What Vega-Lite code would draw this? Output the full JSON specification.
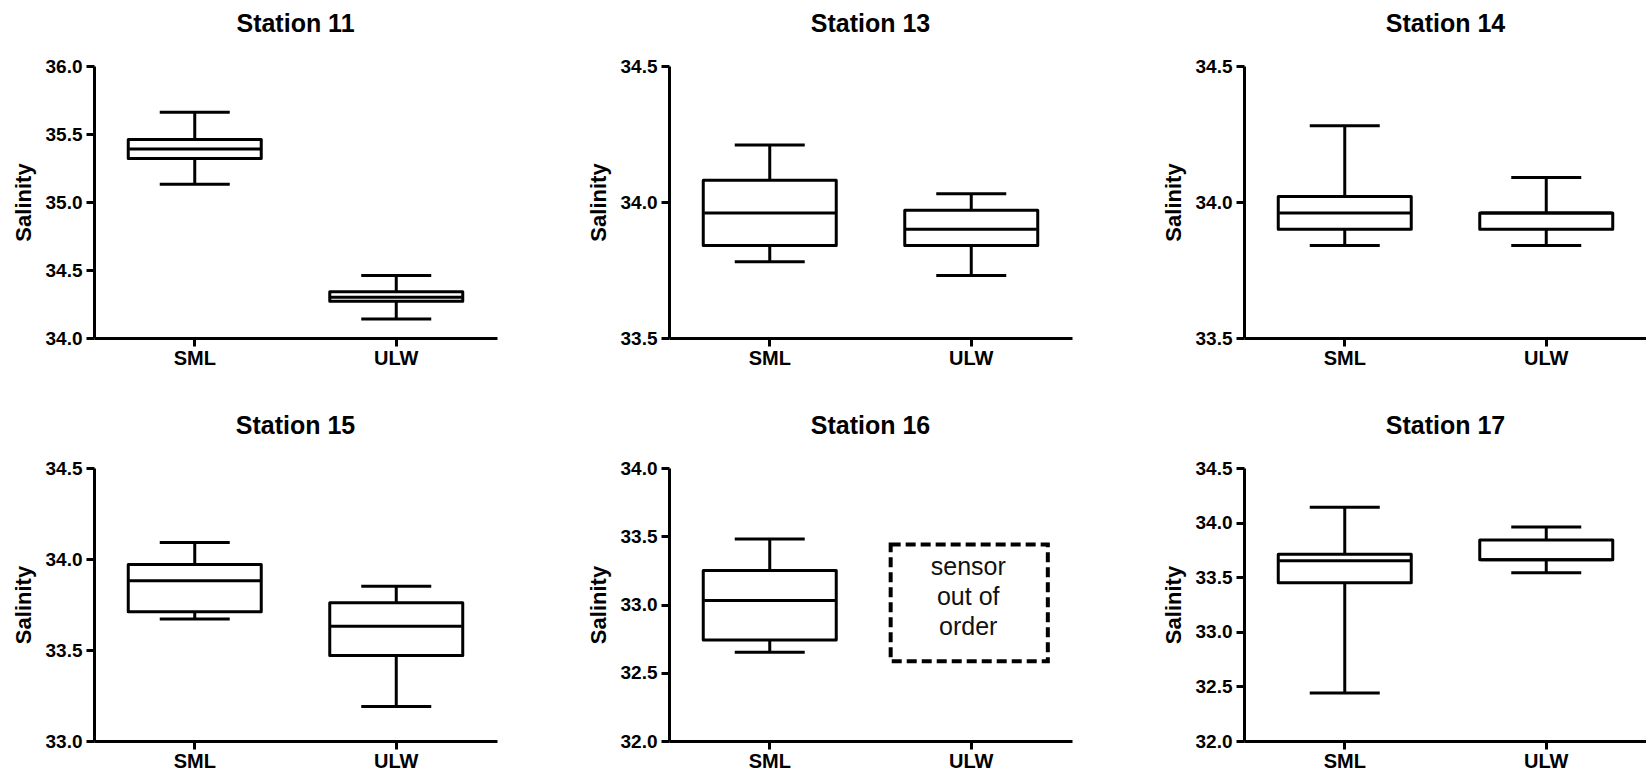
{
"$schema":"https://vega.github.io/schema/vega-lite/v6.json",
"padding":{"left":12,"top":12,"right":0,"bottom":0},
"background":"white",
"datasets":{
"box":[
{"station":"Station 11","group":"SML","lo":35.13,"q1":35.32,"med":35.39,"q3":35.46,"hi":35.66},
{"station":"Station 11","group":"ULW","lo":34.14,"q1":34.27,"med":34.30,"q3":34.34,"hi":34.46},
{"station":"Station 13","group":"SML","lo":33.78,"q1":33.84,"med":33.96,"q3":34.08,"hi":34.21},
{"station":"Station 13","group":"ULW","lo":33.73,"q1":33.84,"med":33.90,"q3":33.97,"hi":34.03},
{"station":"Station 14","group":"SML","lo":33.84,"q1":33.90,"med":33.96,"q3":34.02,"hi":34.28},
{"station":"Station 14","group":"ULW","lo":33.84,"q1":33.90,"med":33.96,"q3":33.96,"hi":34.09},
{"station":"Station 15","group":"SML","lo":33.67,"q1":33.71,"med":33.88,"q3":33.97,"hi":34.09},
{"station":"Station 15","group":"ULW","lo":33.19,"q1":33.47,"med":33.63,"q3":33.76,"hi":33.85},
{"station":"Station 16","group":"SML","lo":32.65,"q1":32.74,"med":33.03,"q3":33.25,"hi":33.48},
{"station":"Station 17","group":"SML","lo":32.44,"q1":33.45,"med":33.65,"q3":33.71,"hi":34.14},
{"station":"Station 17","group":"ULW","lo":33.54,"q1":33.66,"med":33.66,"q3":33.84,"hi":33.96}
],
"oos":[
{"station":"Station 16","group":"ULW","lo":32.585,"hi":33.44,"mid":33.06,"note":"sensor\nout of\norder"}
]
},
"vconcat":[
{"hconcat":[
{"title":"Station 11","width":403,"height":272,"data":{"name":"box"},"transform":[{"filter":"datum.station == 'Station 11'"}],
"encoding":{"x":{"field":"group","type":"nominal","scale":{"domain":["SML","ULW"],"paddingInner":0,"paddingOuter":0},"axis":{"title":null}}},
"layer":[
{"mark":{"type":"rule","color":"black","strokeWidth":3},"encoding":{"y":{"field":"lo","type":"quantitative","title":"Salinity","scale":{"domain":[34,36],"nice":false,"zero":false},"axis":{"values":[34,34.5,35,35.5,36],"format":".1f"}},"y2":{"field":"hi"}}},
{"mark":{"type":"bar","width":{"band":0.66},"fill":"white","stroke":"black","strokeWidth":3,"strokeJoin":"round"},"encoding":{"y":{"field":"q1","type":"quantitative","title":"Salinity"},"y2":{"field":"q3"}}},
{"mark":{"type":"tick","size":131,"thickness":3,"color":"black","opacity":1},"encoding":{"y":{"field":"med","type":"quantitative","title":"Salinity"}}},
{"mark":{"type":"tick","size":70,"thickness":3,"color":"black","opacity":1},"encoding":{"y":{"field":"lo","type":"quantitative","title":"Salinity"}}},
{"mark":{"type":"tick","size":70,"thickness":3,"color":"black","opacity":1},"encoding":{"y":{"field":"hi","type":"quantitative","title":"Salinity"}}}
]},
{"title":"Station 13","width":403,"height":272,"data":{"name":"box"},"transform":[{"filter":"datum.station == 'Station 13'"}],
"encoding":{"x":{"field":"group","type":"nominal","scale":{"domain":["SML","ULW"],"paddingInner":0,"paddingOuter":0},"axis":{"title":null}}},
"layer":[
{"mark":{"type":"rule","color":"black","strokeWidth":3},"encoding":{"y":{"field":"lo","type":"quantitative","title":"Salinity","scale":{"domain":[33.5,34.5],"nice":false,"zero":false},"axis":{"values":[33.5,34,34.5],"format":".1f"}},"y2":{"field":"hi"}}},
{"mark":{"type":"bar","width":{"band":0.66},"fill":"white","stroke":"black","strokeWidth":3,"strokeJoin":"round"},"encoding":{"y":{"field":"q1","type":"quantitative","title":"Salinity"},"y2":{"field":"q3"}}},
{"mark":{"type":"tick","size":131,"thickness":3,"color":"black","opacity":1},"encoding":{"y":{"field":"med","type":"quantitative","title":"Salinity"}}},
{"mark":{"type":"tick","size":70,"thickness":3,"color":"black","opacity":1},"encoding":{"y":{"field":"lo","type":"quantitative","title":"Salinity"}}},
{"mark":{"type":"tick","size":70,"thickness":3,"color":"black","opacity":1},"encoding":{"y":{"field":"hi","type":"quantitative","title":"Salinity"}}}
]},
{"title":"Station 14","width":403,"height":272,"data":{"name":"box"},"transform":[{"filter":"datum.station == 'Station 14'"}],
"encoding":{"x":{"field":"group","type":"nominal","scale":{"domain":["SML","ULW"],"paddingInner":0,"paddingOuter":0},"axis":{"title":null}}},
"layer":[
{"mark":{"type":"rule","color":"black","strokeWidth":3},"encoding":{"y":{"field":"lo","type":"quantitative","title":"Salinity","scale":{"domain":[33.5,34.5],"nice":false,"zero":false},"axis":{"values":[33.5,34,34.5],"format":".1f"}},"y2":{"field":"hi"}}},
{"mark":{"type":"bar","width":{"band":0.66},"fill":"white","stroke":"black","strokeWidth":3,"strokeJoin":"round"},"encoding":{"y":{"field":"q1","type":"quantitative","title":"Salinity"},"y2":{"field":"q3"}}},
{"mark":{"type":"tick","size":131,"thickness":3,"color":"black","opacity":1},"encoding":{"y":{"field":"med","type":"quantitative","title":"Salinity"}}},
{"mark":{"type":"tick","size":70,"thickness":3,"color":"black","opacity":1},"encoding":{"y":{"field":"lo","type":"quantitative","title":"Salinity"}}},
{"mark":{"type":"tick","size":70,"thickness":3,"color":"black","opacity":1},"encoding":{"y":{"field":"hi","type":"quantitative","title":"Salinity"}}}
]}
]},
{"hconcat":[
{"title":"Station 15","width":403,"height":273,"data":{"name":"box"},"transform":[{"filter":"datum.station == 'Station 15'"}],
"encoding":{"x":{"field":"group","type":"nominal","scale":{"domain":["SML","ULW"],"paddingInner":0,"paddingOuter":0},"axis":{"title":null}}},
"layer":[
{"mark":{"type":"rule","color":"black","strokeWidth":3},"encoding":{"y":{"field":"lo","type":"quantitative","title":"Salinity","scale":{"domain":[33,34.5],"nice":false,"zero":false},"axis":{"values":[33,33.5,34,34.5],"format":".1f"}},"y2":{"field":"hi"}}},
{"mark":{"type":"bar","width":{"band":0.66},"fill":"white","stroke":"black","strokeWidth":3,"strokeJoin":"round"},"encoding":{"y":{"field":"q1","type":"quantitative","title":"Salinity"},"y2":{"field":"q3"}}},
{"mark":{"type":"tick","size":131,"thickness":3,"color":"black","opacity":1},"encoding":{"y":{"field":"med","type":"quantitative","title":"Salinity"}}},
{"mark":{"type":"tick","size":70,"thickness":3,"color":"black","opacity":1},"encoding":{"y":{"field":"lo","type":"quantitative","title":"Salinity"}}},
{"mark":{"type":"tick","size":70,"thickness":3,"color":"black","opacity":1},"encoding":{"y":{"field":"hi","type":"quantitative","title":"Salinity"}}}
]},
{"title":"Station 16","width":403,"height":273,"data":{"name":"box"},"transform":[{"filter":"datum.station == 'Station 16'"}],
"encoding":{"x":{"field":"group","type":"nominal","scale":{"domain":["SML","ULW"],"paddingInner":0,"paddingOuter":0},"axis":{"title":null}}},
"layer":[
{"mark":{"type":"rule","color":"black","strokeWidth":3},"encoding":{"y":{"field":"lo","type":"quantitative","title":"Salinity","scale":{"domain":[32,34],"nice":false,"zero":false},"axis":{"values":[32,32.5,33,33.5,34],"format":".1f"}},"y2":{"field":"hi"}}},
{"mark":{"type":"bar","width":{"band":0.66},"fill":"white","stroke":"black","strokeWidth":3,"strokeJoin":"round"},"encoding":{"y":{"field":"q1","type":"quantitative","title":"Salinity"},"y2":{"field":"q3"}}},
{"mark":{"type":"tick","size":131,"thickness":3,"color":"black","opacity":1},"encoding":{"y":{"field":"med","type":"quantitative","title":"Salinity"}}},
{"mark":{"type":"tick","size":70,"thickness":3,"color":"black","opacity":1},"encoding":{"y":{"field":"lo","type":"quantitative","title":"Salinity"}}},
{"mark":{"type":"tick","size":70,"thickness":3,"color":"black","opacity":1},"encoding":{"y":{"field":"hi","type":"quantitative","title":"Salinity"}}},
{"data":{"name":"oos"},"mark":{"type":"bar","width":{"band":0.78},"xOffset":-2,"fill":"white","fillOpacity":0,"stroke":"black","strokeWidth":4,"strokeDash":[10,5]},"encoding":{"y":{"field":"lo","type":"quantitative","title":"Salinity"},"y2":{"field":"hi"}}},
{"data":{"name":"oos"},"mark":{"type":"text","xOffset":-3,"dy":-29,"font":"Liberation Sans","fontSize":25,"lineHeight":30,"lineBreak":"\n","baseline":"middle","align":"center","color":"#111111"},"encoding":{"y":{"field":"mid","type":"quantitative","title":"Salinity"},"text":{"field":"note"}}}
]},
{"title":"Station 17","width":403,"height":273,"data":{"name":"box"},"transform":[{"filter":"datum.station == 'Station 17'"}],
"encoding":{"x":{"field":"group","type":"nominal","scale":{"domain":["SML","ULW"],"paddingInner":0,"paddingOuter":0},"axis":{"title":null}}},
"layer":[
{"mark":{"type":"rule","color":"black","strokeWidth":3},"encoding":{"y":{"field":"lo","type":"quantitative","title":"Salinity","scale":{"domain":[32,34.5],"nice":false,"zero":false},"axis":{"values":[32,32.5,33,33.5,34,34.5],"format":".1f"}},"y2":{"field":"hi"}}},
{"mark":{"type":"bar","width":{"band":0.66},"fill":"white","stroke":"black","strokeWidth":3,"strokeJoin":"round"},"encoding":{"y":{"field":"q1","type":"quantitative","title":"Salinity"},"y2":{"field":"q3"}}},
{"mark":{"type":"tick","size":131,"thickness":3,"color":"black","opacity":1},"encoding":{"y":{"field":"med","type":"quantitative","title":"Salinity"}}},
{"mark":{"type":"tick","size":70,"thickness":3,"color":"black","opacity":1},"encoding":{"y":{"field":"lo","type":"quantitative","title":"Salinity"}}},
{"mark":{"type":"tick","size":70,"thickness":3,"color":"black","opacity":1},"encoding":{"y":{"field":"hi","type":"quantitative","title":"Salinity"}}}
]}
]}
],
"spacing":46,
"resolve":{"scale":{"y":"independent","x":"independent"}},
"config":{
"font":"Liberation Sans",
"view":{"stroke":null},
"concat":{"spacing":90},
"axis":{"grid":false,"domainColor":"black","domainWidth":3,"tickColor":"black","tickWidth":3,"tickSize":8,"labelColor":"black","labelFont":"Liberation Sans","labelFontWeight":"bold","labelFontSize":19,"labelPadding":4,"titleFont":"Liberation Sans","titleFontWeight":"bold","titleFontSize":22,"titleColor":"black","titlePadding":10},
"axisX":{"labelAngle":0,"labelFontSize":20,"labelPadding":2},
"title":{"font":"Liberation Sans","fontSize":25,"fontWeight":"bold","color":"black","anchor":"middle","frame":"group","offset":20}
}
}
